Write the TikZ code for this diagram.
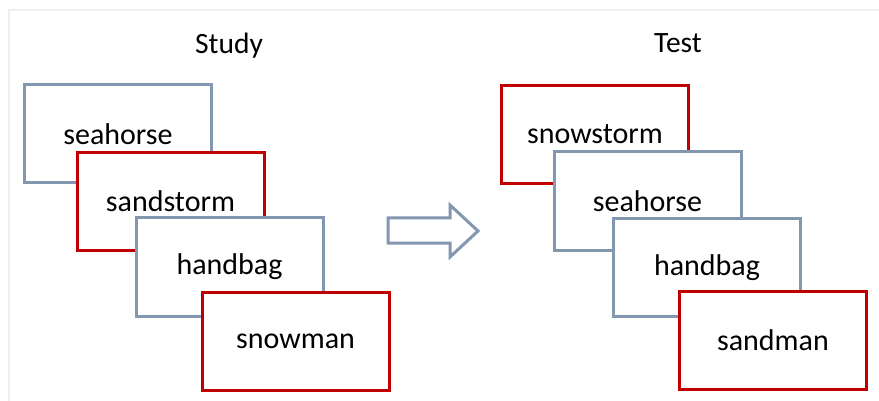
\documentclass[tikz,border=0pt]{standalone}
\usepackage{fontspec}
\setmainfont{Carlito}
\definecolor{bluegray}{HTML}{8497B0}
\definecolor{darkred}{HTML}{C00000}
\definecolor{framegray}{HTML}{EFEFEF}
\tikzset{
  card/.style={draw, fill=white, line width=3pt, minimum width=187pt, minimum height=98pt, inner sep=0pt, font=\fontsize{30}{34}\selectfont},
  lure/.style={card, draw=bluegray},
  target/.style={card, draw=darkred},
  title/.style={font=\fontsize{29.5}{34}\selectfont, inner sep=0pt},
}
\begin{document}
\begin{tikzpicture}[x=1pt,y=-1pt]
\useasboundingbox (0,0) rectangle (879,401);
\draw[framegray, line width=2pt] (9,401) -- (9,10) -- (879,10);
% Study
\node[title] (study) at (229,46) {Study};
\node[lure] (s1) at (118,134) {seahorse};
\node[target] (s2) at (170.5,201.5) {sandstorm};
\node[lure] (s3) at (229.5,267) {handbag};
\node[target] (s4) at (295.5,341) {snowman};
% Test
\node[title] (test) at (678,43) {Test};
\node[target] (t1) at (595,134.5) {snowstorm};
\node[lure] (t2) at (647.5,201) {seahorse};
\node[lure] (t3) at (707,267.5) {handbag};
\node[target] (t4) at (773,340.5) {sandman};
% arrow
\draw[bluegray, line width=3pt, line join=miter, fill=white]
  (388,218) -- (450,218) -- (450,205) -- (478,231) -- (450,257) -- (450,243) -- (388,243) -- cycle;
\end{tikzpicture}
\end{document}
